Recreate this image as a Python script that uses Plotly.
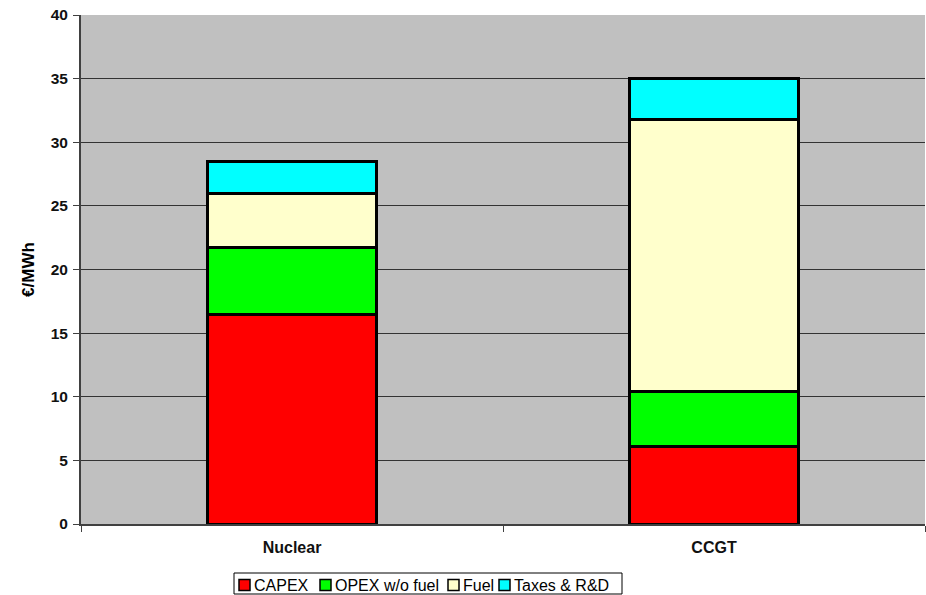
import plotly.graph_objects as go

categories = ["Nuclear", "CCGT"]
series_names = ["CAPEX", "OPEX w/o fuel", "Fuel", "Taxes & R&D"]
capex = [16.5, 6.1]
opex = [5.2, 4.3]
fuel = [4.3, 21.4]
taxes = [2.5, 3.2]
colors = ["#FF0000", "#00FF00", "#FFFFCC", "#00FFFF"]
y_ticks = [0, 5, 10, 15, 20, 25, 30, 35, 40]

W, H = 926, 595
ML, MR, MT, MB = 81, 1, 15, 71
PW, PH = W - ML - MR, H - MT - MB
FONT = "Liberation Sans, Arial, sans-serif"


def px_x(px):
    return (px - ML) / PW


def px_y(py):
    return (H - MB - py) / PH


fig = go.Figure()
for name, vals, col in zip(series_names, [capex, opex, fuel, taxes], colors):
    fig.add_trace(go.Bar(
        x=categories, y=vals, name=name,
        marker=dict(color=col, line=dict(color="#000000", width=3)),
        width=0.4, showlegend=False,
    ))

# custom compact legend (Excel style) at the bottom
legend_box = (234, 573, 622, 594)
legend_sq_x = [239, 320, 448, 499]
legend_sq = 11
legend_cy = 585
shapes = [dict(type="rect", xref="paper", yref="paper",
               x0=px_x(legend_box[0]), x1=px_x(legend_box[2]),
               y0=px_y(legend_box[3]), y1=px_y(legend_box[1]),
               line=dict(color="#000000", width=1), fillcolor="white", layer="above")]
annotations = []
for name, col, sx in zip(series_names, colors, legend_sq_x):
    shapes.append(dict(type="rect", xref="paper", yref="paper",
                       x0=px_x(sx), x1=px_x(sx + legend_sq),
                       y0=px_y(legend_cy + legend_sq / 2), y1=px_y(legend_cy - legend_sq / 2),
                       line=dict(color="#000000", width=1.5), fillcolor=col, layer="above"))
    annotations.append(dict(xref="paper", yref="paper", x=px_x(sx + legend_sq + 2),
                            y=px_y(legend_cy), xanchor="left", yanchor="middle",
                            text=name, showarrow=False,
                            font=dict(size=16, family=FONT, color="#000000")))

fig.update_layout(
    barmode="stack",
    width=W, height=H,
    margin=dict(l=ML, r=MR, t=MT, b=MB),
    paper_bgcolor="white",
    plot_bgcolor="#C0C0C0",
    font=dict(family=FONT, size=15, color="#000000"),
    showlegend=False,
    shapes=shapes,
    annotations=annotations,
)
fig.update_xaxes(
    type="category",
    showgrid=False,
    showline=True, linecolor="#404040", linewidth=1.5,
    ticks="outside", tickson="boundaries", ticklen=6, tickcolor="#404040",
    tickfont=dict(size=16, family=FONT, weight="bold", color="#111111"),
    ticklabelstandoff=8,
    automargin=False,
)
fig.update_yaxes(
    range=[0, 40],
    tickvals=y_ticks,
    showgrid=True, gridcolor="#333333", gridwidth=1,
    showline=True, linecolor="#404040", linewidth=2,
    ticks="outside", ticklen=6, tickcolor="#404040",
    tickfont=dict(size=15.5, family=FONT, weight="bold", color="#111111"),
    ticklabelstandoff=2,
    title=dict(text="€/MWh", font=dict(size=17, family=FONT, weight="bold"), standoff=12),
    zeroline=False,
    automargin=False,
)

fig.write_html("out.html")
